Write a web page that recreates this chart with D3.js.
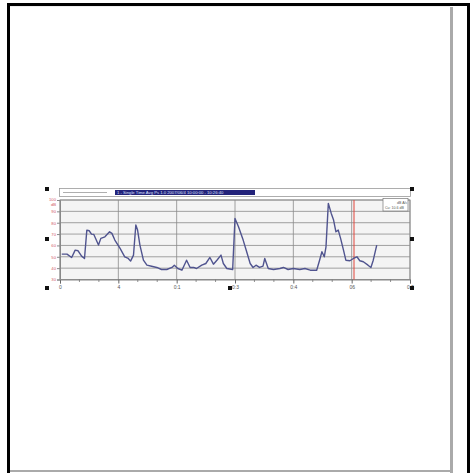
<!DOCTYPE html>
<html>
<head>
<meta charset="utf-8">
<script src="https://cdn.jsdelivr.net/npm/d3@7"></script>
<style>
  html, body { margin: 0; padding: 0; background: #fff; }
  svg { display: block; font-family: "Liberation Sans", Arial, sans-serif; }
</style>
</head>
<body>
<div id="graph"></div>
<script>
// level trace, time in grid units (one grid step = 10)
var times = [0.3, 1.2, 2.0, 2.6, 3.1, 3.7, 4.2, 4.6, 5.0, 5.4, 5.8, 6.6, 7.0, 7.7, 8.5, 8.9, 9.4,
  10.3, 11.1, 11.7, 12.1, 12.6, 13.0, 13.3, 13.7, 14.3, 14.9, 15.7, 16.6, 17.4, 18.3, 19.2, 19.6,
  20.2, 20.9, 21.7, 22.3, 22.9, 23.4, 24.3, 25.0, 25.7, 26.3, 26.9, 27.6, 28.0, 28.6, 29.6,
  30.0, 30.6, 31.4, 32.0, 32.6, 33.1, 33.6, 34.2, 34.8, 35.1, 35.7, 36.6, 37.7, 38.3, 39.1,
  40.0, 41.1, 42.0, 42.9, 44.0, 44.5, 44.9, 45.3, 45.6, 46.0, 46.5, 46.9, 47.3, 47.7, 48.1, 48.6,
  49.0, 49.7, 50.3, 50.9, 51.4, 52.0, 52.8, 53.3, 53.7, 54.3]
var levels = [52.3, 52.3, 49.4, 55.9, 55.3, 50.6, 48.5, 73.5, 72.9, 70.0, 69.7, 60.3, 66.2, 67.6, 72.0, 70.6, 64.7,
  57.4, 50.0, 48.5, 46.2, 51.5, 78.0, 73.5, 60.3, 47.0, 42.6, 41.7, 40.6, 38.8, 38.8, 40.6, 42.6,
  39.7, 38.2, 47.0, 40.6, 40.6, 39.7, 42.6, 44.1, 49.4, 43.5, 47.0, 51.5, 44.1, 39.7, 38.8,
  83.8, 76.4, 64.7, 54.4, 44.1, 40.6, 42.6, 40.6, 41.7, 48.5, 39.7, 38.8, 39.7, 40.6, 38.8,
  39.7, 38.8, 39.7, 38.2, 38.2, 47.0, 54.4, 50.0, 58.8, 97.0, 88.2, 82.3, 72.0, 73.5, 66.2, 55.9,
  47.0, 46.5, 48.5, 50.0, 46.5, 45.6, 42.6, 40.6, 47.0, 60.3]

var yTicks = [30, 40, 50, 60, 70, 80, 90, 100]
var xTicks = [0, 10, 20, 30, 40, 50, 60]
var xLabels = ['0', '4', '0:1', '0:3', '0:4', '06', '0:5']
var cursorTime = 50.4
var titleText = '1 - Single Time Avg Ps 1.0 2007/06/4 10:00:00 - 10:26:40'
var legendLines = ['dB A/c', 'Cu: 10.6 dB']

var data = times.map((t, i) => ({t: t, v: levels[i]}))

var svg = d3.select('#graph').append('svg')
  .attr('width', 472).attr('height', 473)

// page frame
svg.append('rect').attr('x', 8.5).attr('y', 4.5).attr('width', 460).attr('height', 475)
  .attr('fill', '#fff').attr('stroke', '#000').attr('stroke-width', 3)
svg.append('rect').attr('x', 450).attr('y', 7).attr('width', 3).attr('height', 466).attr('fill', '#aaa')
svg.append('rect').attr('x', 10).attr('y', 470).attr('width', 443).attr('height', 2).attr('fill', '#aaa')
svg.append('rect').attr('x', 10).attr('y', 6).attr('width', 440).attr('height', 1).attr('fill', '#eee')

var m = {left: 60, top: 200, right: 410, bottom: 279.5}

var x = d3.scaleLinear().domain([0, 60]).range([m.left, m.right])
var y = d3.scaleLinear().domain([30, 100]).range([m.bottom, m.top])

// plot area
svg.append('rect')
  .attr('x', m.left).attr('y', m.top)
  .attr('width', m.right - m.left).attr('height', m.bottom - m.top)
  .attr('fill', '#f4f4f4').attr('stroke', '#999')

svg.append('g').selectAll('line').data(yTicks).join('line')
  .attr('x1', m.left).attr('x2', m.right)
  .attr('y1', d => y(d)).attr('y2', d => y(d))
  .attr('stroke', '#8a8a8a').attr('stroke-width', 0.8)

svg.append('g').selectAll('line').data(xTicks).join('line')
  .attr('x1', d => x(d)).attr('x2', d => x(d))
  .attr('y1', m.top).attr('y2', m.bottom)
  .attr('stroke', '#8a8a8a').attr('stroke-width', 0.8)

// axes
var xAxis = d3.axisBottom(x).tickValues(xTicks).tickSize(4)
  .tickFormat((d, i) => xLabels[i])
var xg = svg.append('g').attr('transform', 'translate(0,' + m.bottom + ')').call(xAxis)
xg.select('.domain').attr('stroke', '#888')
xg.selectAll('line').attr('stroke', '#666')
xg.selectAll('text').attr('font-size', 5).attr('fill', '#555').attr('dy', '0.4em')

var minor = d3.range(0, 60, 10 / 3).filter(d => Math.abs(d % 10) > 0.1 && Math.abs(d % 10 - 10) > 0.1)
svg.append('g').selectAll('line').data(minor).join('line')
  .attr('x1', d => x(d)).attr('x2', d => x(d))
  .attr('y1', m.bottom).attr('y2', m.bottom + 2.5)
  .attr('stroke', '#777').attr('stroke-width', 0.8)

var yAxis = d3.axisLeft(y).tickValues(yTicks).tickSize(3)
var yg = svg.append('g').attr('transform', 'translate(' + m.left + ',0)').call(yAxis)
yg.select('.domain').attr('stroke', '#888')
yg.selectAll('line').attr('stroke', '#888')
yg.selectAll('text').attr('font-size', 4.2).attr('fill', '#d05a6a').attr('x', -4)
yg.selectAll('text').filter(d => d == 100).attr('dy', '0em')
svg.append('text').attr('x', m.left - 4).attr('y', y(100) + 5.5)
  .attr('text-anchor', 'end').attr('font-size', 4.2).attr('fill', '#d05a6a').text('dB')

// cursor
svg.append('line')
  .attr('x1', x(cursorTime)).attr('x2', x(cursorTime))
  .attr('y1', m.top).attr('y2', m.bottom)
  .attr('stroke', '#e0443a').attr('stroke-width', 1)

// trace
var line = d3.line().x(d => x(d.t)).y(d => y(d.v))
svg.append('path').datum(data)
  .attr('d', line)
  .attr('fill', 'none')
  .attr('stroke', '#50548f')
  .attr('stroke-width', 1.4)
  .attr('stroke-linejoin', 'round')

// legend box
var lg = svg.append('g')
lg.append('rect').attr('x', 383).attr('y', 198.5).attr('width', 25).attr('height', 12.5)
  .attr('fill', '#fff').attr('stroke', '#777').attr('stroke-width', 0.7)
lg.selectAll('text').data(legendLines).join('text')
  .attr('x', (d, i) => i ? 385 : 397).attr('y', (d, i) => 203.5 + i * 5)
  .attr('font-size', 3.6).attr('fill', '#555').text(d => d)

// title bar
svg.append('rect').attr('x', 59.5).attr('y', 188.5).attr('width', 351).attr('height', 8)
  .attr('fill', '#fff').attr('stroke', '#999').attr('stroke-width', 0.8)
svg.append('line').attr('x1', 63).attr('x2', 107).attr('y1', 192.5).attr('y2', 192.5)
  .attr('stroke', '#999').attr('stroke-width', 0.8)
svg.append('rect').attr('x', 115).attr('y', 190).attr('width', 140).attr('height', 5)
  .attr('fill', '#23237a')
svg.append('text').attr('x', 117).attr('y', 194.2)
  .attr('font-size', 4.2).attr('fill', '#dfe0ff').text(titleText)

// object handles
var handles = [[47, 189], [47, 239], [47, 288], [230, 288], [412, 189], [412, 239], [412, 288]]
svg.append('g').selectAll('rect').data(handles).join('rect')
  .attr('x', d => d[0] - 2).attr('y', d => d[1] - 2)
  .attr('width', 4).attr('height', 4).attr('fill', '#111')
</script>
</body>
</html>
